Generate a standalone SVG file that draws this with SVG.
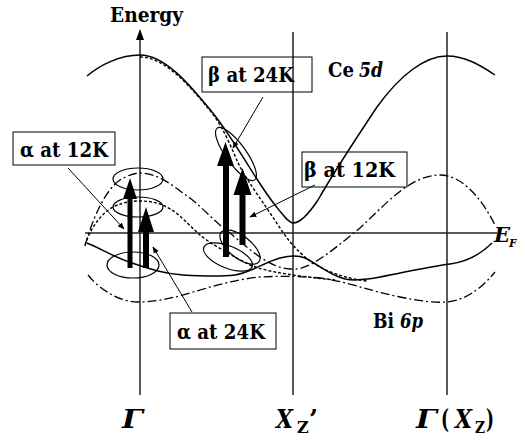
<svg xmlns="http://www.w3.org/2000/svg" width="517" height="440" viewBox="0 0 517 440">
<defs>
<marker id="ah" viewBox="0 0 10 10" refX="9" refY="5" markerWidth="7" markerHeight="7" orient="auto" markerUnits="userSpaceOnUse">
<path d="M0,1 L10,5 L0,9 z" fill="#000"/>
</marker>
<style>
.ax{stroke:#222;stroke-width:1.5;fill:none}
.sol{stroke:#000;stroke-width:1.5;fill:none}
.sd{stroke:#000;stroke-width:1.4;fill:none;stroke-dasharray:3 2}
.dd{stroke:#000;stroke-width:1.3;fill:none;stroke-dasharray:9 3 2 3}
.el{stroke:#000;stroke-width:1.2;fill:none}
.box{stroke:#000;stroke-width:1;fill:none}
.lead{stroke:#000;stroke-width:1;fill:none}
.big{fill:#000}
.lbl{font-size:21px}
.it{font-style:italic}
</style>
</defs>
<rect width="517" height="440" fill="#fff"/>
<g id="axes">
<line class="ax" x1="140" y1="36" x2="140" y2="395"/>
<polygon points="136,40 144,40 140,29" fill="#000"/>
<line class="ax" x1="293" y1="32" x2="293" y2="395"/>
<line class="ax" x1="447" y1="32" x2="447" y2="395"/>
<line class="ax" x1="85" y1="233" x2="497" y2="233"/>
</g>
<g id="bands">
<path class="sol" d="M87,76 C100,65 120,55 140,55 C165,55 190,85 212,112 C235,140 255,180 275,205 C283,215 288,222 293,223 C300,223 310,212 318,200 C335,170 355,140 377,107 C400,75 425,56 447,56 C465,56 480,65 495,75"/>
<path class="sd" d="M140,57 C165,57 190,86 212,113 C225,130 232,150 240,167 C250,185 265,205 278,225 C286,237 293,247 305,257 C318,267 335,277 367,281"/>
<path class="dd" d="M85,246 C92,220 105,190 120,180 C128,175 135,173 140,173 C160,173 175,188 190,198 C205,210 215,222 230,233 C250,250 270,268 290,269 C300,270 308,266 315,262 C330,253 345,240 360,228 C385,205 410,175 440,175 C460,175 480,195 495,225"/>
<path class="sd" d="M85,245 C90,230 100,213 115,206 C125,202 132,201 140,201 C155,201 165,205 175,212 C185,220 192,228 200,235 C210,243 225,252 250,265 C265,271 280,273 300,276 C315,278 325,279 335,280"/>
<path class="sol" d="M87,243 C100,248 115,258 135,264 C150,269 165,274 183,275 C200,276 217,277 235,275 C250,273 265,262 280,258 C288,256 298,255 305,258 C318,264 328,275 345,279 C360,282 380,277 400,273 C420,269 435,266 450,264 C465,262 480,255 492,243"/>
<path class="dd" d="M88,275 C100,290 120,302 138,302 C160,302 180,296 200,290 C220,284 240,279 260,277 C280,276 300,276 320,278 C345,281 370,291 400,297 C420,301 435,303 447,302 C465,300 480,290 495,272"/>
</g>
<g id="ellipses">
<ellipse class="el" cx="138" cy="179" rx="25" ry="11"/>
<ellipse class="el" cx="138" cy="207" rx="25" ry="10"/>
<ellipse class="el" cx="133" cy="265" rx="26" ry="13"/>
<ellipse class="el" cx="236" cy="154" rx="32" ry="10" transform="rotate(54 236 154)"/>
<ellipse class="el" cx="240" cy="247" rx="24" ry="11" transform="rotate(38 240 247)"/>
<ellipse class="el" cx="228" cy="257" rx="26" ry="11" transform="rotate(22 228 257)"/>
</g>
<g id="transitions">
<polygon class="big" points="127.5,268 132.5,268 132.5,199 137,199 130,178 123,199 127.5,199"/>
<polygon class="big" points="143,268 149,268 149,232 154,232 146,207 138,232 143,232"/>
<polygon class="big" points="223,257 229,257 229,166 234,166 225.5,142 217,166 223,166"/>
<polygon class="big" points="239.5,245 245.5,245 245.5,195 251.5,195 242.5,168 233.5,195 239.5,195"/>
</g>
<g id="connectors">
<line class="lead" x1="68" y1="168" x2="124" y2="229" marker-end="url(#ah)"/>
<line class="lead" x1="263" y1="97" x2="233" y2="148" marker-end="url(#ah)"/>
<line class="lead" x1="315" y1="185" x2="250" y2="217" marker-end="url(#ah)"/>
<line class="lead" x1="192" y1="312" x2="153" y2="247" marker-end="url(#ah)"/>
</g>
<g font-family="DejaVu Serif, serif" font-weight="bold" fill="#000">
<g id="alpha12">
<rect class="box" x="13" y="132" width="102" height="33"/>
<text class="lbl" x="20" y="157" textLength="88" lengthAdjust="spacingAndGlyphs">α at 12K</text>
</g>
<g id="beta24">
<rect class="box" x="202" y="57" width="110" height="35"/>
<text class="lbl" x="208" y="82" textLength="86" lengthAdjust="spacingAndGlyphs">β at 24K</text>
</g>
<g id="beta12">
<rect class="box" x="302" y="152" width="105" height="35"/>
<text class="lbl" x="304" y="177" textLength="91" lengthAdjust="spacingAndGlyphs">β at 12K</text>
</g>
<g id="alpha24">
<rect class="box" x="170" y="313" width="106" height="36"/>
<text class="lbl" x="177" y="339" textLength="88" lengthAdjust="spacingAndGlyphs">α at 24K</text>
</g>
<g id="labels">
<text x="110" y="22" font-size="21" textLength="73" lengthAdjust="spacingAndGlyphs">Energy</text>
<text x="328" y="77" font-size="21" textLength="26" lengthAdjust="spacingAndGlyphs">Ce</text>
<text class="it" x="359" y="77" font-size="21" textLength="24" lengthAdjust="spacingAndGlyphs">5d</text>
<text x="373" y="328" font-size="21" textLength="21" lengthAdjust="spacingAndGlyphs">Bi</text>
<text class="it" x="400" y="328" font-size="21" textLength="23" lengthAdjust="spacingAndGlyphs">6p</text>
<text class="it" x="494" y="242" font-size="21">E</text>
<text class="it" x="509" y="247" font-size="11">F</text>
<text class="it" x="122" y="428" font-size="26" textLength="21" lengthAdjust="spacingAndGlyphs">Γ</text>
<text class="it" x="276" y="428" font-size="26" textLength="17" lengthAdjust="spacingAndGlyphs">X</text>
<text x="297" y="433" font-size="16">Z</text>
<text x="309" y="428" font-size="26">’</text>
<text class="it" x="416" y="428" font-size="26" textLength="21" lengthAdjust="spacingAndGlyphs">Γ</text>
<text x="441" y="428" font-size="26" textLength="8" lengthAdjust="spacingAndGlyphs">(</text>
<text class="it" x="455" y="428" font-size="26" textLength="17" lengthAdjust="spacingAndGlyphs">X</text>
<text x="475" y="433" font-size="16" textLength="10" lengthAdjust="spacingAndGlyphs">Z</text>
<text x="486" y="428" font-size="26" textLength="8" lengthAdjust="spacingAndGlyphs">)</text>
</g>
</g>
</svg>
